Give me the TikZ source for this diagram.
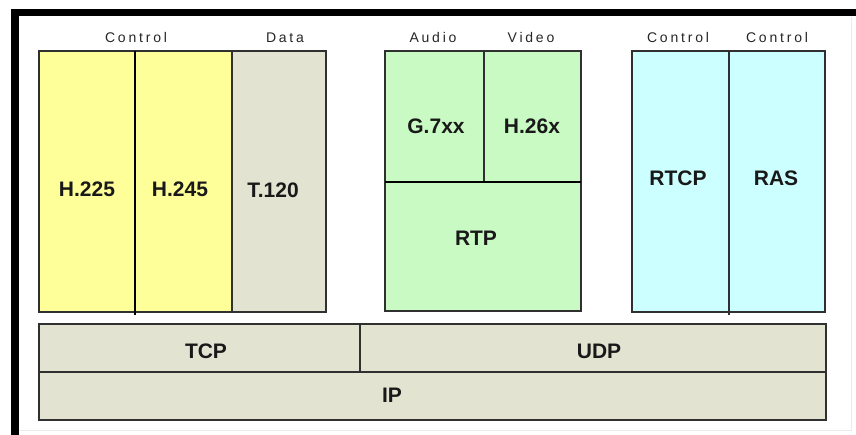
\documentclass[tikz,border=0pt]{standalone}
\usepackage{fontspec}
\setmainfont{Liberation Sans}
\newfontfamily\lblfont[LetterSpace=20]{Liberation Sans}
\definecolor{cyel}{HTML}{FFFF99}
\definecolor{cbeige}{HTML}{E3E3D2}
\definecolor{cgreen}{HTML}{CAFAC4}
\definecolor{ccyan}{HTML}{CCFFFF}
\definecolor{cline}{HTML}{303030}
\begin{document}
\begin{tikzpicture}[x=1pt,y=-1pt,
  cell/.style={draw=cline, line width=1.6pt, inner sep=0pt, outer sep=0pt, anchor=north west},
  big/.style={font=\fontsize{21}{25}\selectfont\bfseries, text=black!90, inner sep=0pt},
  lbl/.style={font=\lblfont\fontsize{14}{16}\selectfont, text=black!85, inner sep=0pt}]
\useasboundingbox (0,0) rectangle (856,435);
\fill[white] (0,0) rectangle (856,435);
% frame
\fill[black] (11,9) rectangle (856,16);
\fill[black] (11,9) rectangle (19,435);
\draw[black!8, line width=1pt] (851,17) -- (851,430) -- (20,430);
% upper left group
\node[cell, fill=cyel, minimum width=96pt, minimum height=261pt] (h225c) at (39,51) {};
\node[cell, fill=cyel, minimum width=97pt, minimum height=261pt] (h245c) at (135,51) {};
\node[cell, fill=cbeige, minimum width=94pt, minimum height=261pt] (t120c) at (232,51) {};
\draw[black, line width=2.6pt] (h225c.north east) -- ([yshift=-3pt]h225c.south east);
% middle group
\node[cell, fill=cgreen, minimum width=99pt, minimum height=131pt] (g7c) at (385,51) {};
\node[cell, fill=cgreen, minimum width=97pt, minimum height=131pt] (h26c) at (484,51) {};
\node[cell, fill=cgreen, minimum width=196pt, minimum height=129pt] (rtpc) at (385,182) {};
\draw[black, line width=2.4pt] (rtpc.north west) -- (rtpc.north east);
% right group
\node[cell, fill=ccyan, minimum width=97pt, minimum height=261pt] (rtcpc) at (632,51) {};
\node[cell, fill=ccyan, minimum width=96pt, minimum height=261pt] (rasc) at (729,51) {};
\draw[cline, line width=1.6pt] (rasc.north west) -- ([yshift=-3pt]rasc.south west);
% lower layers
\node[cell, fill=cbeige, minimum width=321pt, minimum height=48pt] (tcpc) at (39,324) {};
\node[cell, fill=cbeige, minimum width=466pt, minimum height=48pt] (udpc) at (360,324) {};
\node[cell, fill=cbeige, minimum width=787pt, minimum height=48pt] (ipc) at (39,372) {};
% texts in cells
\node[big] (h225) at (87,189) {H.225};
\node[big] (h245) at (180,189) {H.245};
\node[big] (t120) at (273,190) {T.120};
\node[big] (g7) at (436,126) {G.7xx};
\node[big] (h26) at (532,126) {H.26x};
\node[big] (rtp) at (476,238) {RTP};
\node[big] (rtcp) at (678,178) {RTCP};
\node[big] (ras) at (776,178) {RAS};
\node[big] (tcp) at (206,351) {TCP};
\node[big] (udp) at (599,351) {UDP};
\node[big] (ip) at (392,395) {IP};
% header labels
\node[lbl] (lctl1) at (136,38) {Control};
\node[lbl] (ldata) at (285,38) {Data};
\node[lbl] (laud) at (433,38) {Audio};
\node[lbl] (lvid) at (531,38) {Video};
\node[lbl] (lctl2) at (678,38) {Control};
\node[lbl] (lctl3) at (777,38) {Control};
\end{tikzpicture}
\end{document}
